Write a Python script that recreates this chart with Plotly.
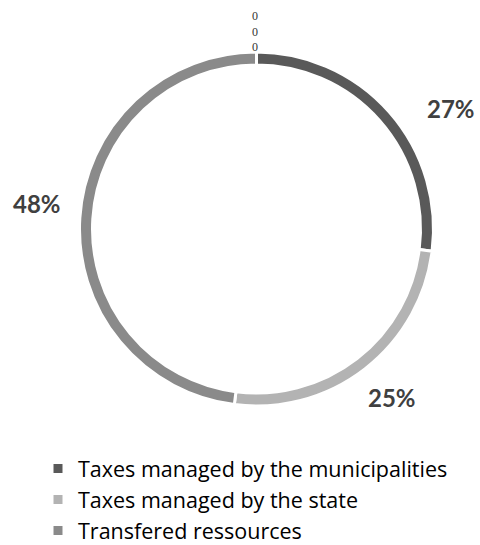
import math
import plotly.graph_objects as go

# ---- data ----
categories = ["Taxes managed by the municipalities", "Taxes managed by the state", "Transfered ressources"]
shares = [27, 25, 48]
zero_values = [0, 0, 0]

# ---- style ----
colors = ["#595959", "#b3b3b3", "#8a8a8a"]
W, H = 480, 545
cx, cy = 256.5, 229
R_geo = 177          # geometric outer radius (white border eats 1.5px)
R_vis = 175.5
label_shift = [(63, 4), (28, -30), (-44, 14)]

fig = go.Figure(go.Pie(
    labels=categories,
    values=shares,
    hole=164 / 177,
    sort=False,
    direction="clockwise",
    rotation=0,
    marker=dict(colors=colors, line=dict(color="white", width=3)),
    textinfo="none",
    hoverinfo="label+percent",
    domain=dict(x=[(cx - R_geo) / W, (cx + R_geo) / W],
                y=[1 - (cy + R_geo) / H, 1 - (cy - R_geo) / H]),
))

annotations = []
total = sum(shares)
cum = 0
for i, v in enumerate(shares):
    mid = (cum + v / 2) / total * 2 * math.pi
    cum += v
    px = cx + R_vis * math.sin(mid)
    py = cy - R_vis * math.cos(mid)
    annotations.append(dict(
        x=px / W, y=1 - py / H, xref="paper", yref="paper",
        text=f"<b>{round(v / total * 100)}%</b>", showarrow=False,
        xanchor="center", yanchor="middle",
        xshift=label_shift[i][0], yshift=label_shift[i][1],
        font=dict(family="Lato", size=24, color="#404040"),
    ))

# zero-valued points stacked at the top of the ring
annotations.append(dict(
    x=(cx - 1.5) / W, y=1 - (cy - R_vis) / H, xref="paper", yref="paper",
    text="<br>".join(str(z) for z in zero_values), showarrow=False,
    xanchor="center", yanchor="bottom", yshift=-2,
    font=dict(family="Liberation Serif", size=12, color="#333333"),
))

fig.update_layout(
    width=W, height=H,
    margin=dict(l=0, r=0, t=0, b=0, autoexpand=False),
    paper_bgcolor="white",
    plot_bgcolor="white",
    annotations=annotations,
    showlegend=True,
    legend=dict(
        x=38 / W, y=1 - 448 / H, xanchor="left", yanchor="top",
        font=dict(family="Open Sans", size=21.5, color="#000000"),
        traceorder="normal", itemwidth=30, tracegroupgap=0,
    ),
)

fig.write_html("out.html")
